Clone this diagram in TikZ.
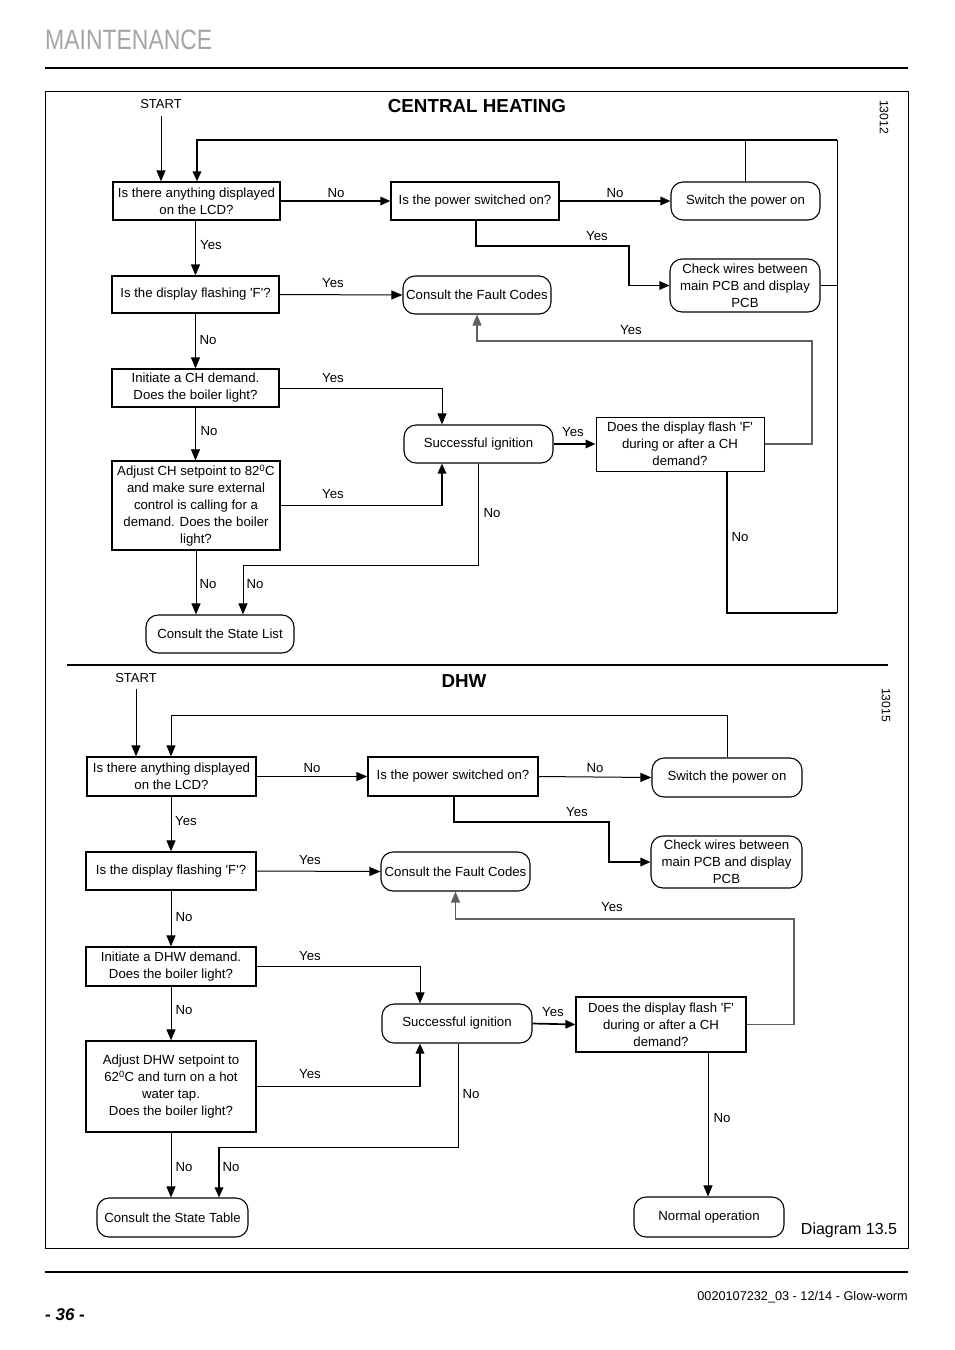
\documentclass[tikz,border=0pt]{standalone}
\usepackage{fontspec}
\setmainfont{Liberation Sans}
\usepackage{graphicx}
\usetikzlibrary{arrows.meta,calc}
\newcommand{\fsz}{\fontsize{13.2}{17}\selectfont}
\newcommand{\qq}{\textquotesingle}
\definecolor{hdrgray}{RGB}{165,165,165}
\definecolor{lngray}{RGB}{95,95,95}
\begin{document}
\begin{tikzpicture}[x=1pt,y=-1pt,
  box/.style={draw, line width=1.3pt, inner sep=0pt, align=center, font=\fsz},
  rbox/.style={box, line width=1.1pt, rounded corners=12pt},
  lbl/.style={inner sep=0pt, font=\fsz},
  con/.style={line width=1pt},
  tcon/.style={line width=1.7pt},
  arr/.style={con, -{Triangle[length=11pt,width=9pt]}},
  tarr/.style={tcon, -{Triangle[length=10pt,width=8.5pt]}},
]
\useasboundingbox (0,0) rectangle (954,1350);
% page furniture
\node[anchor=west, inner sep=0pt, text=hdrgray] (hdr) at (45,40) {\scalebox{0.82}[1]{\fontsize{28}{28}\selectfont MAINTENANCE}};
\draw[line width=2.2pt] (45,68) -- (908,68);
\draw[line width=1pt] (45,91) rectangle (908,1248);
\draw[line width=1.8pt] (67,665) -- (888,665);
\draw[line width=2.2pt] (45,1272) -- (908,1272);
\node[anchor=east, inner sep=0pt, font=\fontsize{12.7}{14}\selectfont] (ftr) at (908,1297) {0020107232\_03 - 12/14 - Glow-worm};
\node[anchor=west, inner sep=0pt, font=\fontsize{17}{19}\selectfont\bfseries\itshape] (pg) at (45,1315) {- 36 -};
\node[inner sep=0pt, font=\fontsize{16}{18}\selectfont] (diag) at (849,1230) {Diagram 13.5};

% ================= CENTRAL HEATING =================
\node[inner sep=0pt, font=\fontsize{18.8}{20}\selectfont\bfseries] (t1) at (477,106) {CENTRAL HEATING};
\node[inner sep=0pt, font=\fontsize{12.2}{14}\selectfont, rotate=-90] (n1) at (884,117) {13012};
\node[lbl, font=\fontsize{13}{15}\selectfont] (st1) at (161,104) {START};

\node[box, minimum width=167pt, minimum height=38pt] (a1) at (196.5,201) {Is there anything displayed\\on the LCD?};
\node[box, minimum width=168pt, minimum height=38pt] (pw1) at (475,201) {Is the power switched on?};
\node[rbox, minimum width=149pt, minimum height=38pt] (sw1) at (745.5,201) {Switch the power on};
\node[rbox, minimum width=150pt, minimum height=53pt] (ck1) at (745,285.5) {Check wires between\\main PCB and display\\PCB};
\node[box, minimum width=167pt, minimum height=37pt] (a2) at (195.5,294.5) {Is the display flashing \qq F\qq?};
\node[rbox, minimum width=148pt, minimum height=38pt] (fc1) at (477,295) {Consult the Fault Codes};
\node[box, minimum width=167pt, minimum height=38pt] (a3) at (195.5,388) {Initiate a CH demand.\\Does the boiler light?};
\node[rbox, minimum width=149pt, minimum height=38pt] (si1) at (478.5,444) {Successful ignition};
\node[box, line width=1pt, minimum width=168pt, minimum height=54pt] (df1) at (680,444) {Does the display flash \qq F\qq\\during or after a CH\\demand?};
\node[box, minimum width=168pt, minimum height=89pt] (a4) at (196,505.5) {Adjust CH setpoint to 82\textsuperscript{0}C\\and make sure external\\control is calling for a\\demand. Does the boiler\\light?};
\node[rbox, minimum width=148pt, minimum height=38pt] (sl1) at (220,634) {Consult the State List};

\coordinate (tl1) at (197,140);
\coordinate (tr1) at (837,140);
\coordinate (br1) at (837,613);
\coordinate (pk1) at (629,246);
\coordinate (fr1) at (812,341);
\coordinate (sj1) at (479,565);

\draw[arr] (st1.south) ++(0,7) -- (st1.south |- a1.north);
\draw[tcon] ([xshift=47pt]df1.south) |- (br1);
\draw[con] (br1) -- (tr1);
\draw[tarr] (tr1) -- (tl1) -- (tl1 |- a1.north);
\draw[con] (sw1.north) -- (sw1.north |- tr1);
\draw[tcon] (ck1.east) -- (ck1.east -| tr1);
\draw[tarr] (a1.east) -- (pw1.west);
\draw[tarr] (pw1.east) -- (sw1.west);
\draw[tarr] ([xshift=1pt]pw1.south) |- (pk1) |- (ck1.west);
\draw[arr, line width=1.3pt] (a2.north |- a1.south) -- (a2.north);
\draw[arr] (a2.east) -- (fc1.west);
\draw[arr, lngray, line width=1.3pt] (df1.east) -| (fr1) -| (fc1.south);
\draw[arr] (a2.south) -- (a3.north);
\draw[arr] (a3.east) -| ([xshift=-36.5pt]si1.north);
\draw[arr] (a3.south) -- (a3.south |- a4.north);
\draw[tarr] (a4.east) -| ([xshift=-36.5pt]si1.south);
\draw[tarr] (si1.east) -- (df1.west);
\draw[arr] (si1.south) |- ([xshift=23pt]sl1.north |- sj1) -- ([xshift=23pt]sl1.north);
\draw[arr] (a4.south) -- (a4.south |- sl1.north);

\node[lbl] (l1) at (336,193) {No};
\node[lbl] (l2) at (615,193) {No};
\node[lbl] (l3) at (597,236) {Yes};
\node[lbl] (l4) at (211,245) {Yes};
\node[lbl] (l5) at (333,283) {Yes};
\node[lbl] (l6) at (631,330) {Yes};
\node[lbl] (l7) at (208,340) {No};
\node[lbl] (l8) at (333,378) {Yes};
\node[lbl] (l9) at (209,431) {No};
\node[lbl] (l10) at (573,432) {Yes};
\node[lbl] (l11) at (333,494) {Yes};
\node[lbl] (l12) at (492,513) {No};
\node[lbl] (l13) at (740,537) {No};
\node[lbl] (l14) at (208,584) {No};
\node[lbl] (l15) at (255,584) {No};

% ================= DHW =================
\node[inner sep=0pt, font=\fontsize{18.8}{20}\selectfont\bfseries] (t2) at (464,681) {DHW};
\node[inner sep=0pt, font=\fontsize{12.2}{14}\selectfont, rotate=-90] (n2) at (886,705) {13015};
\node[lbl, font=\fontsize{13}{15}\selectfont] (st2) at (136,678) {START};

\node[box, minimum width=169pt, minimum height=39pt] (b1) at (171.5,776.5) {Is there anything displayed\\on the LCD?};
\node[box, minimum width=170pt, minimum height=39pt] (pw2) at (453,776.5) {Is the power switched on?};
\node[rbox, minimum width=150pt, minimum height=39pt] (sw2) at (727,777.5) {Switch the power on};
\node[rbox, minimum width=151pt, minimum height=52pt] (ck2) at (726.5,862) {Check wires between\\main PCB and display\\PCB};
\node[box, minimum width=170pt, minimum height=38pt] (b2) at (171,871) {Is the display flashing \qq F\qq?};
\node[rbox, minimum width=149pt, minimum height=39pt] (fc2) at (455.5,871.5) {Consult the Fault Codes};
\node[box, minimum width=170pt, minimum height=39pt] (b3) at (171,966.5) {Initiate a DHW demand.\\Does the boiler light?};
\node[rbox, minimum width=150pt, minimum height=39pt] (si2) at (457,1023.5) {Successful ignition};
\node[box, minimum width=170pt, minimum height=55pt] (df2) at (661,1024.5) {Does the display flash \qq F\qq\\during or after a CH\\demand?};
\node[box, minimum width=170pt, minimum height=91pt] (b4) at (171,1086.5) {Adjust DHW setpoint to\\62\textsuperscript{0}C and turn on a hot\\water tap.\\Does the boiler light?};
\node[rbox, minimum width=151pt, minimum height=39pt] (sl2) at (172.5,1217.5) {Consult the State Table};
\node[rbox, minimum width=150pt, minimum height=40pt] (no2) at (709,1217) {Normal operation};

\coordinate (tl2) at (171,715);
\coordinate (pk2) at (609,822);
\coordinate (fr2) at (794,919);
\coordinate (sj2) at (458,1147);

\draw[arr] (st2.south) ++(0,6) -- (st2.south |- b1.north);
\draw[arr] (sw2.north) |- (tl2) -- (tl2 |- b1.north);
\draw[arr] (b1.east) -- (pw2.west);
\draw[arr] (pw2.east) -- (sw2.west);
\draw[tarr] ([xshift=1pt]pw2.south) |- (pk2) |- (ck2.west);
\draw[arr] (b2.north |- b1.south) -- (b2.north);
\draw[arr] (b2.east) -- (fc2.west);
\draw[arr, lngray, line width=1.3pt] (df2.east) -| (fr2) -| (fc2.south);
\draw[arr] (b2.south) -- (b3.north);
\draw[arr] (b3.east) -| ([xshift=-37pt]si2.north);
\draw[arr] (b3.south) -- (b4.north);
\draw[tarr] (b4.east) -| ([xshift=-37pt]si2.south);
\draw[tarr] (si2.east) -- (df2.west);
\draw[con] ([xshift=1pt]si2.south) |- ([xshift=46.5pt]sl2.north |- sj2);
\draw[tarr] ([xshift=46.5pt]sl2.north |- sj2) -- ([xshift=46.5pt]sl2.north);
\draw[arr] (b4.south) -- (b4.south |- sl2.north);
\draw[arr] ([xshift=47pt]df2.south) -- ([xshift=47pt]df2.south |- no2.north);

\node[lbl] (m1) at (312,768) {No};
\node[lbl] (m2) at (595,768) {No};
\node[lbl] (m3) at (577,812) {Yes};
\node[lbl] (m4) at (186,821) {Yes};
\node[lbl] (m5) at (310,860) {Yes};
\node[lbl] (m6) at (612,907) {Yes};
\node[lbl] (m7) at (184,917) {No};
\node[lbl] (m8) at (310,956) {Yes};
\node[lbl] (m9) at (184,1010) {No};
\node[lbl] (m10) at (553,1012) {Yes};
\node[lbl] (m11) at (310,1074) {Yes};
\node[lbl] (m12) at (471,1094) {No};
\node[lbl] (m13) at (722,1118) {No};
\node[lbl] (m14) at (184,1167) {No};
\node[lbl] (m15) at (231,1167) {No};
\end{tikzpicture}
\end{document}
